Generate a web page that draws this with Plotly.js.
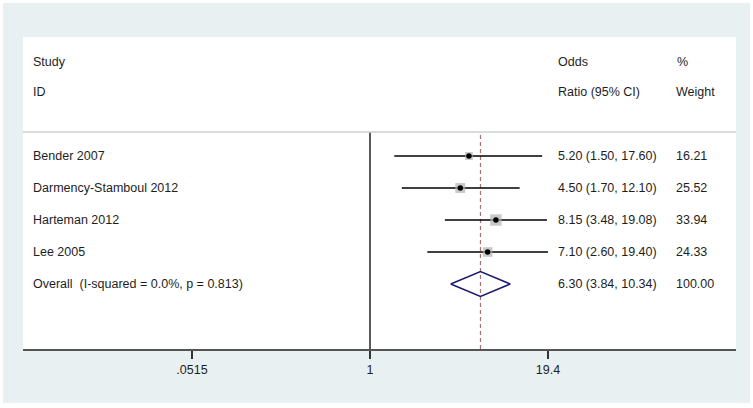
<!DOCTYPE html>
<html><head><meta charset="utf-8">
<script src="https://cdn.plot.ly/plotly-3.0.1.min.js"></script>
<style>html,body{margin:0;padding:0;background:#fff}#chart{width:753px;height:408px}</style>
</head><body><div id="chart"></div>
<script>
// ---- data ----
const studies = ["Bender 2007", "Darmency-Stamboul 2012", "Harteman 2012", "Lee 2005"];
const oddsRatio = [5.20, 4.50, 8.15, 7.10];
const ciLow = [1.50, 1.70, 3.48, 2.60];
const ciHigh = [17.60, 12.10, 19.08, 19.40];
const weights = [16.21, 25.52, 33.94, 24.33];
const overallLabel = "Overall  (I-squared = 0.0%, p = 0.813)";
const overallOR = 6.30, overallLow = 3.84, overallHigh = 10.34, overallWeight = 100.00;
const tickValues = [0.0515, 1, 19.4];
const tickLabels = [".0515", "1", "19.4"];

// row positions (Bender top)
const rowY = [5, 4, 3, 2];
const overallY = 1;
const headerY1 = 7.94, headerY2 = 7.0, sepY = 5.75, yBottom = -1.031, yTop = 8.719;

const fmt = v => v.toFixed(2);
const traces = [];

// null line at 1
traces.push({x:[1,1], y:[yBottom, sepY], mode:'lines', line:{color:'#000', width:1.3}, hoverinfo:'skip', showlegend:false});
// overall dashed line
traces.push({x:[overallOR, overallOR], y:[yBottom, sepY], mode:'lines', line:{color:'#a87070', width:1.2, dash:'4px,3px'}, hoverinfo:'skip', showlegend:false});

// CI lines
studies.forEach((s,i)=>{
  traces.push({x:[ciLow[i], ciHigh[i]], y:[rowY[i], rowY[i]], mode:'lines', line:{color:'#000', width:1.5}, hoverinfo:'skip', showlegend:false});
});
// weight boxes
traces.push({x:oddsRatio, y:rowY, mode:'markers', marker:{symbol:'square', color:'#b0b0b0', size:weights.map(w=>Math.sqrt(w)*1.95), line:{width:0}}, hoverinfo:'skip', showlegend:false});
// point estimates
traces.push({x:oddsRatio, y:rowY, mode:'markers', marker:{symbol:'circle', color:'#000', size:5.5}, hoverinfo:'skip', showlegend:false});
// overall diamond
const h = 0.39;
traces.push({x:[overallLow, overallOR, overallHigh, overallOR, overallLow], y:[overallY, overallY+h, overallY, overallY-h, overallY], mode:'lines', line:{color:'#1a1a6e', width:1.5}, hoverinfo:'skip', showlegend:false});

// annotations
const L = 23, W = 713;
const px = p => (p - L) / W;
const font = {family:'Liberation Sans, Arial, sans-serif', size:12.5, color:'#1e1e1e'};
const ann = [];
function addText(t, xpix, y){ ann.push({text:t, x:px(xpix - 1.5), xref:'paper', y:y, yref:'y', xanchor:'left', yanchor:'middle', showarrow:false, font:font}); }
addText("Study", 32, headerY1); addText("ID", 32, headerY2);
addText("Odds", 557, headerY1); addText("Ratio (95% CI)", 557, headerY2);
addText("%", 676, headerY1); addText("Weight", 675, headerY2);
studies.forEach((s,i)=>{
  addText(s, 32, rowY[i]);
  addText(fmt(oddsRatio[i]) + " (" + fmt(ciLow[i]) + ", " + fmt(ciHigh[i]) + ")", 557, rowY[i]);
  addText(fmt(weights[i]), 675, rowY[i]);
});
addText(overallLabel, 32, overallY);
addText(fmt(overallOR) + " (" + fmt(overallLow) + ", " + fmt(overallHigh) + ")", 557, overallY);
addText(fmt(overallWeight), 675, overallY);

const pxPerDec = 138.2;
const layout = {
  width:753, height:408,
  margin:{l:23, r:17, t:37, b:59, pad:0},
  paper_bgcolor:'#ffffff', plot_bgcolor:'rgba(0,0,0,0)',
  showlegend:false,
  xaxis:{type:'log', range:[(23-370)/pxPerDec, (736-370)/pxPerDec], tickvals:tickValues, ticktext:tickLabels,
    showgrid:false, zeroline:false, showline:true, linecolor:'#555', linewidth:2,
    ticks:'outside', ticklen:8, tickwidth:1.2, tickcolor:'#333', tickfont:font, fixedrange:true},
  yaxis:{range:[yBottom, yTop], showgrid:false, zeroline:false, showline:false, showticklabels:false, ticks:'', fixedrange:true},
  shapes:[
    {type:'rect', xref:'paper', yref:'paper', x0:(3-23)/713, x1:(750-23)/713, y0:-(403-349)/312, y1:1+(37-3)/312, fillcolor:'#e9f0f2', line:{width:0}, layer:'below'},
    {type:'rect', xref:'paper', yref:'paper', x0:0, x1:1, y0:0, y1:1, fillcolor:'#ffffff', line:{width:0}, layer:'below'},
    {type:'line', xref:'paper', yref:'y', x0:0, x1:1, y0:sepY, y1:sepY, line:{color:'#cfcfcf', width:1.5}}
  ],
  annotations:ann
};
Plotly.newPlot('chart', traces, layout, {displayModeBar:false, staticPlot:true});
</script></body></html>
